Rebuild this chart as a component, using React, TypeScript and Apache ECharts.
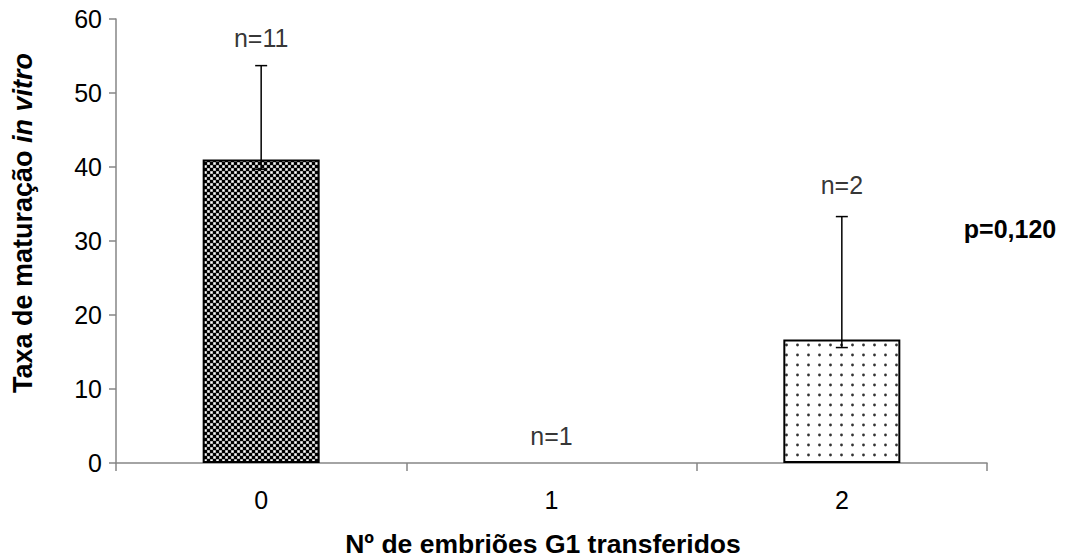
import React, { useEffect, useRef } from "react";
import * as echarts from "echarts";

const categories = ["0", "1", "2"];
const means = [41, 0, 16.7];
const errLow = [39.7, null, 15.6];
const errHigh = [53.7, null, 33.3];
const nLabels = ["n=11", "n=1", "n=2"];
const nLabelY = [57.4, 3.6, 37.6];
const yTicks = { min: 0, max: 60, interval: 10 };
const xTitle = "Nº de embriões G1 transferidos";
const pText = "p=0,120";

function checkerPattern(): HTMLCanvasElement {
  const c = document.createElement("canvas");
  c.width = 6;
  c.height = 6;
  const g = c.getContext("2d")!;
  g.fillStyle = "#808080";
  g.fillRect(0, 0, 6, 6);
  g.fillStyle = "#000";
  g.fillRect(0, 0, 3, 3);
  g.fillRect(3, 3, 3, 3);
  g.fillStyle = "#fff";
  g.fillRect(3.5, 0.5, 2, 2);
  g.fillRect(0.5, 3.5, 2, 2);
  return c;
}

function dotPattern(): HTMLCanvasElement {
  const c = document.createElement("canvas");
  c.width = 11;
  c.height = 10;
  const g = c.getContext("2d")!;
  g.fillStyle = "#fff";
  g.fillRect(0, 0, 11, 10);
  g.fillStyle = "#333";
  g.beginPath();
  g.arc(5.5, 5, 1.4, 0, Math.PI * 2);
  g.fill();
  return c;
}

export default function App() {
  const ref = useRef<HTMLDivElement>(null);
  useEffect(() => {
    document.body.style.margin = "0";
    if (!ref.current) return;
    const chart = echarts.init(ref.current, null, { renderer: "svg" });
    const chk = checkerPattern();
    const dot = dotPattern();
    const fills = [
      { image: chk, repeat: "repeat", imageWidth: 6, imageHeight: 6 },
      "#fff",
      { image: dot, repeat: "repeat", imageWidth: 11, imageHeight: 10 },
    ];
    const font = "'Liberation Sans', Arial, sans-serif";
    const fs = 25;
    const ts = 26.5;
    chart.setOption({
      animation: false,
      textStyle: { fontFamily: font },
      grid: { left: 116, right: 81, top: 19, bottom: 96, outerBoundsMode: "none", containLabel: false },
      xAxis: {
        type: "category",
        data: categories,
        axisLine: { lineStyle: { color: "#868686", width: 1.5 } },
        axisTick: { show: true, length: 8, lineStyle: { color: "#868686", width: 1.5 } },
        axisLabel: { fontSize: fs, color: "#000", margin: 24, fontFamily: font },
      },
      yAxis: {
        type: "value",
        min: yTicks.min,
        max: yTicks.max,
        interval: yTicks.interval,
        splitLine: { show: false },
        axisLine: { show: true, lineStyle: { color: "#868686", width: 1.5 } },
        axisTick: { show: true, length: 7, lineStyle: { color: "#868686", width: 1.5 } },
        axisLabel: { fontSize: fs, color: "#000", margin: 14, fontFamily: font },
      },
      graphic: [
        {
          type: "text",
          x: 23,
          y: 223,
          rotation: Math.PI / 2,
          style: {
            text: "{b|Taxa de maturação }{i|in vitro}",
            align: "center",
            verticalAlign: "middle",
            rich: {
              b: { fontSize: 27, fontWeight: "bold", fill: "#000", fontFamily: font },
              i: { fontSize: 27, fontWeight: "bold", fontStyle: "italic", fill: "#000", fontFamily: font },
            },
          },
        },
        {
          type: "text",
          x: 543,
          y: 544,
          style: {
            text: xTitle,
            align: "center",
            verticalAlign: "middle",
            fontSize: ts,
            fontWeight: "bold",
            fill: "#000",
            fontFamily: font,
          },
        },
        {
          type: "text",
          x: 1010,
          y: 229,
          style: {
            text: pText,
            align: "center",
            verticalAlign: "middle",
            fontSize: fs,
            fontWeight: "bold",
            fill: "#000",
            fontFamily: font,
          },
        },
      ],
      series: [
        {
          type: "bar",
          barWidth: 117,
          data: means.map((v, i) => ({
            value: v,
            itemStyle: { color: fills[i], borderColor: "#000", borderWidth: v > 0 ? 2 : 0 },
          })),
          z: 2,
        },
        {
          type: "custom",
          z: 3,
          data: categories.map((_, i) => [i, errLow[i], errHigh[i]]),
          renderItem: (params: any, api: any) => {
            const lo = api.value(1);
            const hi = api.value(2);
            if (lo == null || hi == null || isNaN(lo) || isNaN(hi)) return null;
            const p1 = api.coord([api.value(0), lo]);
            const p2 = api.coord([api.value(0), hi]);
            const hw = 6;
            const st = { stroke: "#000", lineWidth: 1.5 };
            return {
              type: "group",
              children: [
                { type: "line", shape: { x1: p1[0], y1: p1[1], x2: p2[0], y2: p2[1] }, style: st },
                { type: "line", shape: { x1: p1[0] - hw, y1: p1[1], x2: p1[0] + hw, y2: p1[1] }, style: st },
                { type: "line", shape: { x1: p2[0] - hw, y1: p2[1], x2: p2[0] + hw, y2: p2[1] }, style: st },
              ],
            };
          },
        },
        {
          type: "scatter",
          symbolSize: 0,
          z: 4,
          data: nLabelY.map((v, i) => ({ value: [i, v], name: nLabels[i] })),
          label: {
            show: true,
            position: "inside",
            formatter: (p: any) => p.name,
            fontSize: fs,
            color: "#000",
            fontFamily: font,
          },
          silent: true,
        },
      ],
    });
    return () => chart.dispose();
  }, []);
  return <div ref={ref} style={{ width: 1068, height: 559 }} />;
}
